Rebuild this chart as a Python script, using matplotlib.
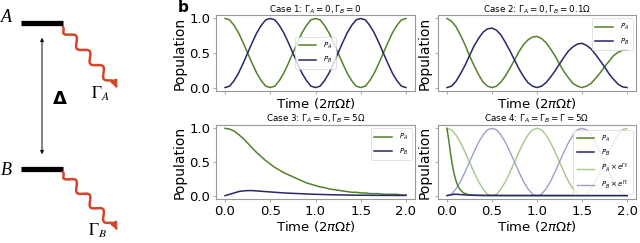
import numpy as np
import matplotlib.pyplot as plt

# time grid (2*pi*Omega*t)
t = np.round(np.arange(0, 2.001, 0.05), 2)

# case 1: no decay
pa_1 = [1.00, 0.98, 0.90, 0.79, 0.65, 0.50, 0.35, 0.21, 0.10, 0.02, 0.00,
        0.02, 0.10, 0.21, 0.35, 0.50, 0.65, 0.79, 0.90, 0.98, 1.00,
        0.98, 0.90, 0.79, 0.65, 0.50, 0.35, 0.21, 0.10, 0.02, 0.00,
        0.02, 0.10, 0.21, 0.35, 0.50, 0.65, 0.79, 0.90, 0.98, 1.00]
pb_1 = [0.00, 0.02, 0.10, 0.21, 0.35, 0.50, 0.65, 0.79, 0.90, 0.98, 1.00,
        0.98, 0.90, 0.79, 0.65, 0.50, 0.35, 0.21, 0.10, 0.02, 0.00,
        0.02, 0.10, 0.21, 0.35, 0.50, 0.65, 0.79, 0.90, 0.98, 1.00,
        0.98, 0.90, 0.79, 0.65, 0.50, 0.35, 0.21, 0.10, 0.02, 0.00]

# case 2: weak decay of B
pa_2 = [1.00, 0.96, 0.88, 0.76, 0.62, 0.46, 0.32, 0.19, 0.08, 0.02, 0.00,
        0.02, 0.08, 0.17, 0.28, 0.40, 0.52, 0.62, 0.69, 0.73, 0.74,
        0.71, 0.65, 0.56, 0.46, 0.34, 0.23, 0.14, 0.06, 0.02, 0.00,
        0.02, 0.06, 0.13, 0.21, 0.30, 0.38, 0.46, 0.51, 0.54, 0.55]
pb_2 = [0.00, 0.02, 0.09, 0.20, 0.32, 0.46, 0.60, 0.71, 0.80, 0.85, 0.86,
        0.83, 0.76, 0.65, 0.53, 0.40, 0.27, 0.16, 0.07, 0.02, 0.00,
        0.02, 0.07, 0.15, 0.24, 0.34, 0.44, 0.53, 0.59, 0.63, 0.64,
        0.61, 0.56, 0.48, 0.39, 0.30, 0.20, 0.12, 0.05, 0.01, 0.00]

# case 3: strong decay of B
pa_3 = [1.00, 0.99, 0.96, 0.91, 0.85, 0.78, 0.71, 0.64, 0.58, 0.52, 0.47,
        0.42, 0.38, 0.34, 0.31, 0.28, 0.25, 0.22, 0.19, 0.17, 0.15,
        0.13, 0.12, 0.10, 0.09, 0.08, 0.07, 0.06, 0.05, 0.05, 0.04,
        0.04, 0.03, 0.03, 0.03, 0.02, 0.02, 0.02, 0.02, 0.01, 0.01]
pb_3 = [0.00, 0.02, 0.04, 0.06, 0.07, 0.075, 0.075, 0.07, 0.065, 0.06, 0.055,
        0.05, 0.045, 0.04, 0.037, 0.034, 0.031, 0.028, 0.025, 0.022, 0.02,
        0.018, 0.016, 0.014, 0.012, 0.011, 0.010, 0.009, 0.008, 0.007, 0.006,
        0.006, 0.005, 0.005, 0.004, 0.004, 0.004, 0.003, 0.003, 0.003, 0.003]

# case 4: equal decay, fast part on its own grid
t_4 = [0, 0.02, 0.04, 0.06, 0.08, 0.10, 0.12, 0.14, 0.16, 0.18, 0.20,
       0.25, 0.30, 0.40, 0.60, 1.00, 1.50, 2.00]
pa_4 = [1.00, 0.82, 0.62, 0.45, 0.32, 0.22, 0.15, 0.10, 0.07, 0.045, 0.03,
        0.01, 0.004, 0.001, 0.0, 0.0, 0.0, 0.0]
pb_4 = [0.0, 0.005, 0.012, 0.017, 0.02, 0.02, 0.019, 0.017, 0.015, 0.013, 0.011,
        0.008, 0.006, 0.004, 0.003, 0.002, 0.002, 0.002]

titles = [r'Case 1: $\Gamma_A = 0, \Gamma_B = 0$',
          r'Case 2: $\Gamma_A = 0, \Gamma_B = 0.1\Omega$',
          r'Case 3: $\Gamma_A = 0, \Gamma_B = 5\Omega$',
          r'Case 4: $\Gamma_A = \Gamma_B = \Gamma = 5\Omega$']

green = '#55802a'
navy = '#27276a'
lgreen = '#a6c68a'
lnavy = '#9e9ecb'
red = '#d4452b'

W, H = 640, 243
fig = plt.figure(figsize=(6.4, 2.43), dpi=100)

def px(x0, y0, x1, y1):
    return [x0 / W, 1 - y1 / H, (x1 - x0) / W, (y1 - y0) / H]

# ---- panel a: level scheme ----
sk = fig.add_axes([0, 0, 180 / W, 1])
sk.set_xlim(0, 180)
sk.set_ylim(H, 0)
sk.axis('off')

sk.plot([21, 63], [23.5, 23.5], color='black', lw=3.8, solid_capstyle='butt')
sk.plot([21, 63], [169, 169], color='black', lw=3.8, solid_capstyle='butt')
sk.text(6, 18, 'A', fontsize=13, style='italic', family='Liberation Serif', ha='center', va='center')
sk.text(6, 170, 'B', fontsize=13, style='italic', family='Liberation Serif', ha='center', va='center')
sk.annotate('', xy=(42, 35), xytext=(42, 157),
            arrowprops=dict(arrowstyle='<|-|>', color='black', lw=0.7, mutation_scale=5))
sk.text(60, 99, 'Δ', fontsize=13, fontweight='bold', ha='center', va='center')

def wave(x0, y0, x1, y1):
    s = np.linspace(0, 1, 400)
    dx, dy = x1 - x0, y1 - y0
    L = np.hypot(dx, dy)
    nx, ny = -dy / L, dx / L
    amp = 4.0 * np.clip(s / 0.06, 0, 1) * np.clip((1 - s) / 0.15, 0, 1)
    w = amp * np.sin(2 * np.pi * 4.0 * s)
    xs = x0 + dx * s + nx * w
    ys = y0 + dy * s + ny * w
    sk.plot(xs[:-24], ys[:-24], color=red, lw=1.8, solid_capstyle='round')
    sk.annotate('', xy=(x1, y1), xytext=(xs[-26], ys[-26]),
                arrowprops=dict(arrowstyle='-|>', color=red, lw=1.8, mutation_scale=9))

wave(63, 27, 117, 88)
wave(63, 172, 117, 230)
sk.text(100, 94, r'$\Gamma_A$', fontsize=12, ha='center', va='center', math_fontfamily='stix')
sk.text(97, 231, r'$\Gamma_B$', fontsize=12, ha='center', va='center', math_fontfamily='stix')

fig.text(183 / W, 1 - 8 / H, 'b', fontsize=11, fontweight='bold', ha='center', va='center')

# ---- panel b: populations ----
boxes = [px(216, 15, 415, 91), px(438, 15, 636, 91),
         px(216, 125, 415, 199), px(438, 125, 636, 199)]
axs = []
for i, b in enumerate(boxes):
    ax = fig.add_axes(b)
    axs.append(ax)

axs[0].plot(t, pa_1, color=green, lw=1.1, label='$P_A$')
axs[0].plot(t, pb_1, color=navy, lw=1.1, label='$P_B$')
axs[1].plot(t, pa_2, color=green, lw=1.1, label='$P_A$')
axs[1].plot(t, pb_2, color=navy, lw=1.1, label='$P_B$')
axs[2].plot(t, pa_3, color=green, lw=1.1, label='$P_A$')
axs[2].plot(t, pb_3, color=navy, lw=1.1, label='$P_B$')
axs[3].plot(t_4, pa_4, color=green, lw=1.1, label='$P_A$', zorder=3)
axs[3].plot(t_4, pb_4, color=navy, lw=1.1, label='$P_B$', zorder=3)
axs[3].plot(t, pa_1, color=lgreen, lw=1.0, label=r'$P_A \times e^{\Gamma t}$', zorder=2)
axs[3].plot(t, pb_1, color=lnavy, lw=1.0, label=r'$P_B \times e^{\Gamma t}$', zorder=2)

locs = ['center', 'upper right', 'upper right', 'center right']
for i, ax in enumerate(axs):
    ax.set_title(titles[i], fontsize=6.3, pad=2)
    ax.set_xlim(-0.1, 2.1)
    ax.set_ylim(-0.05, 1.05)
    ax.set_xticks([0, 0.5, 1.0, 1.5, 2.0])
    ax.set_yticks([0, 0.5, 1.0])
    ax.set_ylabel('Population', fontsize=10, labelpad=2)
    ax.set_xlabel(r'Time ($2\pi\Omega t$)', fontsize=9.5, labelpad=1)
    ax.tick_params(labelsize=9.5, length=2.5, width=0.6, color='#999999', pad=1.5)
    for s in ax.spines.values():
        s.set_color('#999999')
        s.set_linewidth(0.8)
    if i < 2:
        ax.tick_params(labelbottom=False)
    if i % 2 == 1:
        ax.tick_params(labelleft=False)
    leg = ax.legend(loc=locs[i], fontsize=5, handlelength=2.5, borderpad=0.5,
                    labelspacing=0.6, handletextpad=1.0)
    leg.get_frame().set_linewidth(0.5)

fig.savefig('out.png', dpi=100)
